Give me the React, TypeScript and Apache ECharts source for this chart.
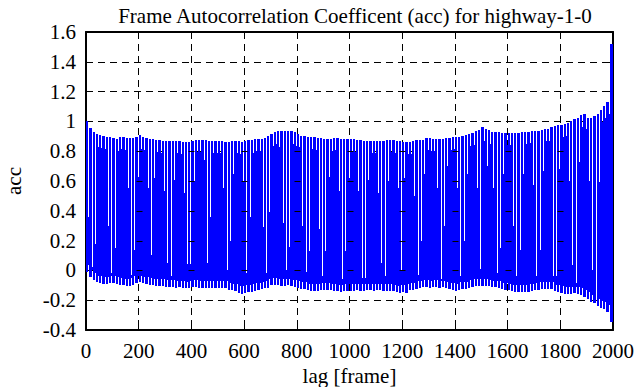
import React, { useEffect, useRef } from "react";
import * as echarts from "echarts";

// Axes
const X_MIN = 0;
const X_MAX = 2000;
const X_INTERVAL = 200;
const Y_MIN = -0.4;
const Y_MAX = 1.6;
const Y_INTERVAL = 0.2;

const TITLE = "Frame Autocorrelation Coefficent (acc) for highway-1-0";
const X_NAME = "lag [frame]";
const Y_NAME = "acc";

// Width (in lag frames) of one oscillation column of the acc trace
const BAR_LAG = 12.5;

// Peak (upper) value of the acc trace per column
const peaks = [
  1.0, 0.955, 0.93, 0.916, 0.907, 0.902, 0.895, 0.893, 0.891, 0.882,
  0.895, 0.895, 0.891, 0.891, 0.891, 0.895, 0.907, 0.895, 0.89, 0.882,
  0.882, 0.877, 0.875, 0.87, 0.868, 0.868, 0.868, 0.868, 0.868, 0.864,
  0.862, 0.862, 0.868, 0.873, 0.877, 0.877, 0.873, 0.868, 0.868, 0.868,
  0.868, 0.868, 0.862, 0.864, 0.87, 0.87, 0.87, 0.864, 0.87, 0.875,
  0.877, 0.88, 0.882, 0.88, 0.89, 0.905, 0.915, 0.926, 0.936, 0.936,
  0.936, 0.936, 0.934, 0.928, 0.915, 0.905, 0.9, 0.895, 0.895, 0.893,
  0.886, 0.886, 0.884, 0.882, 0.882, 0.886, 0.886, 0.882, 0.882, 0.88,
  0.88, 0.88, 0.877, 0.875, 0.87, 0.868, 0.868, 0.868, 0.868, 0.868,
  0.87, 0.872, 0.872, 0.872, 0.87, 0.868, 0.864, 0.862, 0.862, 0.868,
  0.872, 0.877, 0.877, 0.886, 0.887, 0.883, 0.883, 0.883, 0.883, 0.887,
  0.887, 0.895, 0.895, 0.895, 0.902, 0.909, 0.918, 0.924, 0.935, 0.945,
  0.962, 0.947, 0.94, 0.929, 0.929, 0.929, 0.922, 0.922, 0.922, 0.922,
  0.922, 0.922, 0.929, 0.929, 0.932, 0.935, 0.935, 0.935, 0.945, 0.949,
  0.949, 0.965, 0.969, 0.975, 0.975, 0.982, 0.989, 1.0, 1.013, 1.026,
  1.045, 1.049, 1.026, 1.026, 1.033, 1.049, 1.076, 1.1, 1.13, 1.52,
];

// Trough (lower) value of the acc trace per column
const troughs = [
  -0.01, -0.045, -0.065, -0.08, -0.082, -0.088, -0.09, -0.086, -0.083, -0.09,
  -0.096, -0.1, -0.105, -0.103, -0.096, -0.085, -0.08, -0.087, -0.088, -0.095,
  -0.1, -0.102, -0.107, -0.105, -0.11, -0.114, -0.112, -0.116, -0.114, -0.118,
  -0.12, -0.12, -0.114, -0.112, -0.116, -0.117, -0.119, -0.116, -0.118, -0.117,
  -0.12, -0.116, -0.118, -0.13, -0.134, -0.136, -0.15, -0.156, -0.152, -0.145,
  -0.143, -0.135, -0.13, -0.128, -0.12, -0.116, -0.1, -0.096, -0.1, -0.105,
  -0.104, -0.1, -0.108, -0.111, -0.118, -0.127, -0.125, -0.133, -0.136, -0.138,
  -0.136, -0.134, -0.131, -0.13, -0.133, -0.138, -0.14, -0.142, -0.14, -0.137,
  -0.136, -0.138, -0.134, -0.136, -0.135, -0.133, -0.134, -0.136, -0.134, -0.133,
  -0.136, -0.138, -0.135, -0.14, -0.148, -0.15, -0.146, -0.149, -0.133, -0.13,
  -0.128, -0.116, -0.114, -0.112, -0.115, -0.114, -0.112, -0.115, -0.113, -0.12,
  -0.127, -0.13, -0.136, -0.134, -0.125, -0.122, -0.12, -0.112, -0.106, -0.104,
  -0.103, -0.106, -0.108, -0.114, -0.113, -0.118, -0.128, -0.132, -0.134, -0.14,
  -0.145, -0.147, -0.144, -0.146, -0.143, -0.136, -0.134, -0.132, -0.124, -0.122,
  -0.125, -0.124, -0.14, -0.142, -0.15, -0.158, -0.156, -0.158, -0.155, -0.157,
  -0.165, -0.178, -0.19, -0.212, -0.22, -0.239, -0.25, -0.257, -0.279, -0.346,
];

// Long white gaps in the trace: lag where they sit and acc value where they end
const streakLags = [
  15, 29, 37, 88, 100, 111, 161, 173, 183, 195, 234, 244, 254, 268,
  306, 316, 328, 340, 377, 388, 401, 411, 449, 460, 473, 522, 533, 545, 557,
  599, 611, 626, 641, 675, 688, 699, 736, 749, 759, 771, 821, 832, 844,
  893, 904, 916, 927, 965, 977, 988, 999, 1037, 1049, 1060, 1071,
  1109, 1121, 1132, 1144, 1183, 1195, 1206, 1218, 1256, 1268, 1279, 1291,
  1335, 1347, 1360, 1372, 1407, 1420, 1432, 1445, 1482, 1494, 1506, 1519,
  1553, 1566, 1578, 1590, 1625, 1637, 1648, 1660, 1697, 1709, 1720, 1732,
  1770, 1781, 1792, 1802, 1842, 1853, 1865, 1876, 1913, 1924, 1937, 1948,
];
const streakEnds = [
  0.36, 0.025, 0.18, 0.3, -0.02, 0.15, 0.55, -0.03, 0.137, 0.63, 0.55, 0.1, 0.137, 0.62,
  0.53, 0.05, -0.04, 0.61, 0.52, 0.04, 0.04, 0.6, 0.74, 0.05, 0.36, 0.55, 0.0, 0.2, 0.65,
  0.6, -0.02, 0.36, 0.79, 0.29, -0.02, 0.39, 0.83, 0.32, 0.0, 0.16, 0.3, -0.01, 0.13,
  0.28, -0.035, 0.13, 0.63, 0.53, -0.058, 0.13, 0.62, 0.53, -0.05, -0.05, 0.61,
  0.52, 0.05, -0.04, 0.6, 0.55, 0.0, 0.15, 0.62, 0.5, -0.03, 0.2, 0.65,
  0.55, -0.055, 0.3, 0.7, 0.55, -0.04, 0.2, 0.65, 0.55, 0.01, 0.25, 0.7,
  0.55, -0.02, 0.15, 0.65, 0.3, -0.04, 0.137, 0.65, 0.57, -0.04, 0.137, 0.67,
  0.58, -0.04, -0.04, 0.68, 0.6, 0.036, -0.085, 0.73, 0.6, 0.0, -0.17, 0.59,
];

// Grid crossings that show through the trace
const markLags = [200, 400, 600, 800, 1000, 1200, 1400, 1600, 1800];
const markValues = [0, 0.2, 0.4, 0.6, 0.8];

const BLUE = "#0000ff";
const FONT = "Liberation Serif";
const TOP_SEP = 0.08;
const BOT_SEP = 0.045;

const txt = (size: number) => ({ fontFamily: FONT, fontSize: size, color: "#000", fontWeight: "normal" as const });

export default function App() {
  const ref = useRef<HTMLDivElement>(null);

  useEffect(() => {
    if (!ref.current) return;
    const chart = echarts.init(ref.current, null, { renderer: "svg" });

    const n = peaks.length;
    const barData = peaks.map((p, i) => {
      const has = i < n - 1 ? 1 : 0;
      const fTop = has ? Math.min(p, peaks[i + 1]) - TOP_SEP : 0;
      const fBot = has ? Math.max(troughs[i], troughs[i + 1]) + BOT_SEP : 0;
      return [i * BAR_LAG, p, troughs[i], fTop, fBot, has];
    });

    const streakData = streakLags.map((lag, k) => {
      const idx = Math.min(n - 1, Math.max(1, Math.round(lag / BAR_LAG)));
      const top = Math.min(peaks[idx - 1], peaks[idx]);
      return [idx * BAR_LAG, top, streakEnds[k]];
    });

    const markData: number[][] = [];
    markLags.forEach((x) => markValues.forEach((y) => markData.push([x, y])));

    const axisLine = () => ({ show: true, onZero: false, lineStyle: { color: "#000", width: 2 } });
    const tick = () => ({ show: true, inside: true, length: 7, lineStyle: { color: "#000", width: 1 } });
    const gridLine = () => ({ show: true, lineStyle: { color: "#000", width: 1, type: [7, 5] as any } });

    chart.setOption({
      animation: false,
      backgroundColor: "#fff",
      textStyle: { fontFamily: FONT },
      title: {
        text: TITLE,
        left: 350,
        top: 0,
        textAlign: "center",
        textStyle: txt(21),
      },
      grid: { left: 86, right: 21, top: 32, bottom: 57, containLabel: false, outerBoundsMode: "none" },
      xAxis: [
        {
          type: "value",
          min: X_MIN,
          max: X_MAX,
          interval: X_INTERVAL,
          position: "bottom",
          name: X_NAME,
          nameLocation: "middle",
          nameGap: 32,
          nameTextStyle: txt(21),
          axisLine: axisLine(),
          axisTick: tick(),
          axisLabel: { ...txt(21), margin: 10, formatter: (v: number) => String(v) },
          splitLine: gridLine(),
        },
        {
          type: "value",
          min: X_MIN,
          max: X_MAX,
          interval: X_INTERVAL,
          position: "top",
          axisLine: axisLine(),
          axisTick: tick(),
          axisLabel: { show: false },
          splitLine: { show: false },
        },
      ],
      yAxis: [
        {
          type: "value",
          min: Y_MIN,
          max: Y_MAX,
          interval: Y_INTERVAL,
          position: "left",
          name: Y_NAME,
          nameLocation: "middle",
          nameRotate: 90,
          nameGap: 62,
          nameTextStyle: txt(21),
          axisLine: axisLine(),
          axisTick: tick(),
          axisLabel: {
            ...txt(21),
            margin: 10,
            formatter: (v: number) => String(Math.round(v * 10) / 10),
          },
          splitLine: gridLine(),
        },
        {
          type: "value",
          min: Y_MIN,
          max: Y_MAX,
          interval: Y_INTERVAL,
          position: "right",
          axisLine: axisLine(),
          axisTick: tick(),
          axisLabel: { show: false },
          splitLine: { show: false },
        },
      ],
      series: [
        {
          type: "custom",
          name: "acc",
          xAxisIndex: 0,
          yAxisIndex: 0,
          silent: true,
          z: 2,
          data: barData,
          renderItem: (params: any, api: any) => {
            const lag = api.value(0);
            const x0 = Math.round(api.coord([lag, 0])[0]);
            const x1 = Math.round(api.coord([lag + BAR_LAG, 0])[0]);
            const yP = Math.round(api.coord([lag, api.value(1)])[1]);
            const yT = Math.round(api.coord([lag, api.value(2)])[1]);
            const has = api.value(5) === 1;
            const w = has ? Math.max(1, x1 - x0 - 1) : Math.max(1, x1 - x0);
            const children: any[] = [
              { type: "rect", shape: { x: x0, y: yP, width: w, height: yT - yP }, style: { fill: BLUE } },
            ];
            if (has) {
              const yA = Math.round(api.coord([lag, api.value(3)])[1]);
              const yB = Math.round(api.coord([lag, api.value(4)])[1]);
              if (yB > yA) {
                children.push({
                  type: "rect",
                  shape: { x: x1 - 1, y: yA, width: 1, height: yB - yA },
                  style: { fill: BLUE },
                });
              }
            }
            return { type: "group", children };
          },
        },
        {
          type: "custom",
          name: "gaps",
          xAxisIndex: 0,
          yAxisIndex: 0,
          silent: true,
          z: 3,
          data: streakData,
          renderItem: (params: any, api: any) => {
            const x = Math.round(api.coord([api.value(0), 0])[0]) - 1;
            const yA = Math.round(api.coord([0, api.value(1)])[1]);
            const yB = Math.round(api.coord([0, api.value(2)])[1]);
            return {
              type: "rect",
              shape: { x, y: yA, width: 1, height: Math.max(0, yB - yA) },
              style: { fill: "#fff" },
            };
          },
        },
        {
          type: "custom",
          name: "crossings",
          xAxisIndex: 0,
          yAxisIndex: 0,
          silent: true,
          z: 4,
          data: markData,
          renderItem: (params: any, api: any) => {
            const p = api.coord([api.value(0), api.value(1)]);
            const cx = Math.round(p[0]) + 0.5;
            const cy = Math.round(p[1]) + 0.5;
            return {
              type: "group",
              children: [
                { type: "line", shape: { x1: cx - 3, y1: cy, x2: cx + 3, y2: cy }, style: { stroke: "#000", lineWidth: 1 } },
              ],
            };
          },
        },
      ],
    });

    return () => chart.dispose();
  }, []);

  return (
    <div
      ref={ref}
      style={{ position: "absolute", left: 0, top: 0, width: 634, height: 387, background: "#fff" }}
    />
  );
}
